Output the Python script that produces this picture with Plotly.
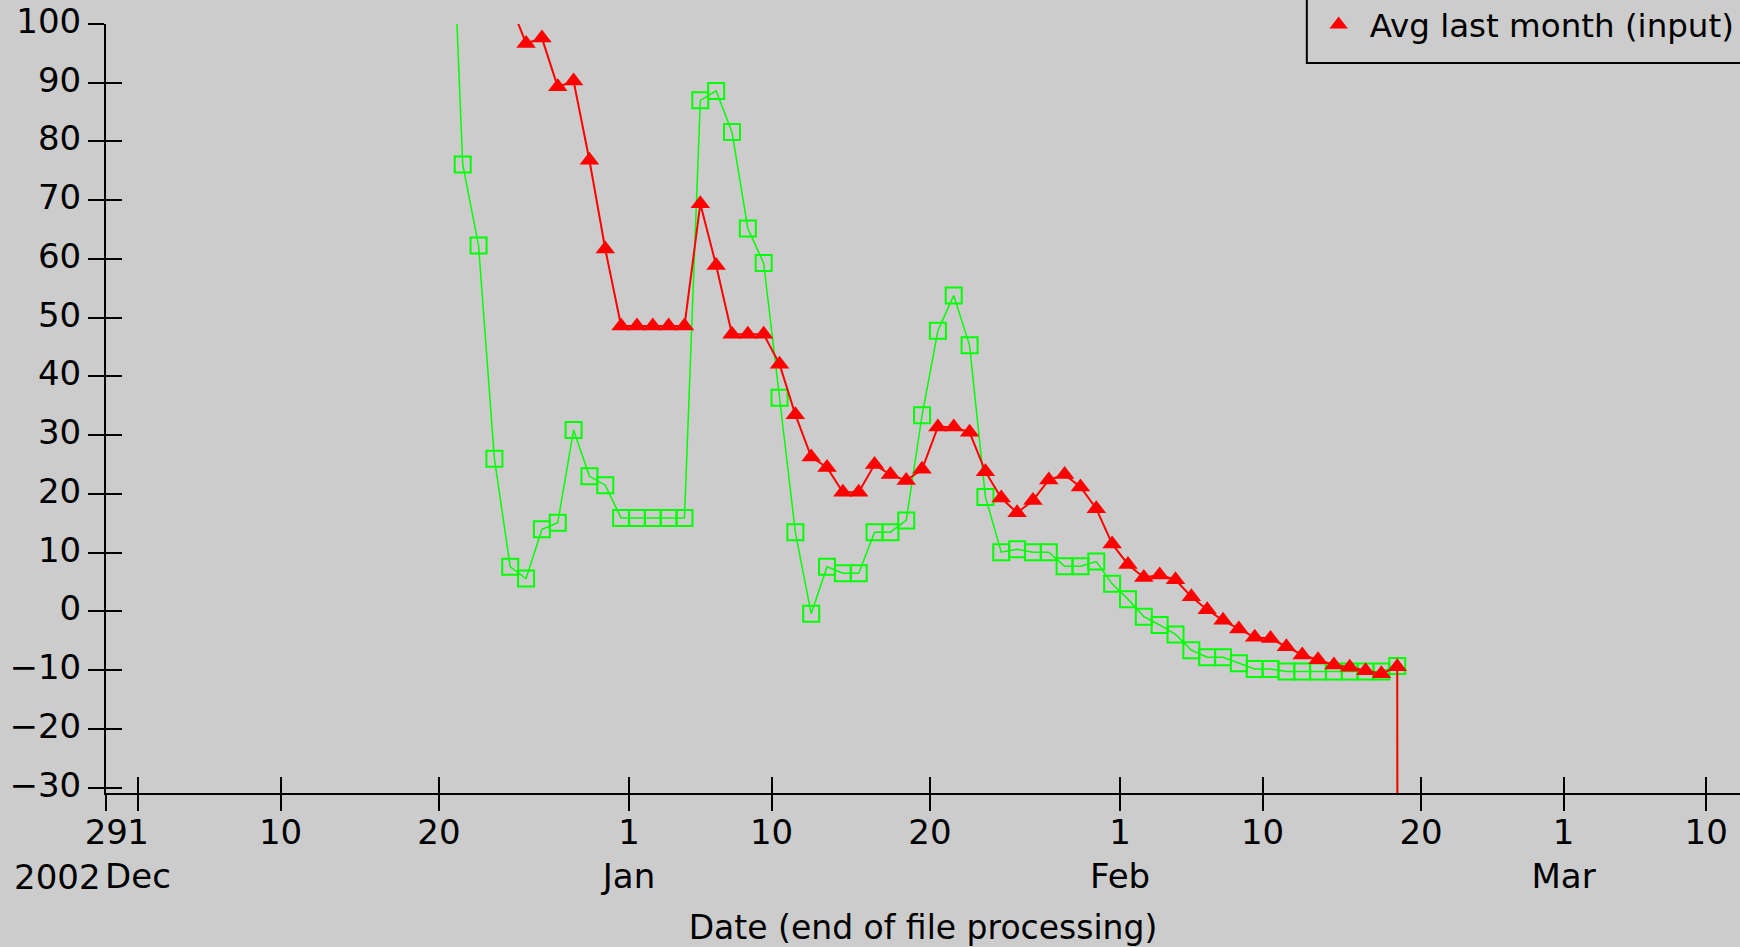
import pandas as pd
import plotly.graph_objects as go

# Daily values, one sample per day at noon
green_start = "2002-12-20 12:00"
green_vals = [
    142.0, 76.1, 62.3, 26.0, 7.6, 5.6, 14.0, 15.1, 30.9, 23.0, 21.5,      # Dec 20 - Dec 30
    15.9, 15.9, 15.9, 15.9, 15.9,                                        # Dec 31 - Jan 4
    87.0, 88.6, 81.6, 65.2, 59.3, 36.4, 13.5, -0.4, 7.6, 6.5, 6.5,       # Jan 5 - Jan 15
    13.5, 13.5, 15.5, 33.4, 47.8, 53.8, 45.3, 19.5, 10.1, 10.6, 10.1,    # Jan 16 - Jan 26
    10.1, 7.7, 7.7, 8.5, 4.7,                                            # Jan 27 - Jan 31
    2.1, -0.9, -2.3, -3.9, -6.6, -7.8, -7.8, -8.8, -9.8, -9.8,           # Feb 1 - Feb 10
    -10.2, -10.2, -10.2, -10.2, -10.2, -10.2, -10.2, -9.3,               # Feb 11 - Feb 18
    -3000.0,                                                             # Feb 19
]

red_start = "2002-12-24 12:00"
red_vals = [
    103.5, 96.7, 97.6, 89.3, 90.3, 76.8, 61.7,                           # Dec 24 - Dec 30
    48.6, 48.6, 48.6, 48.6, 48.6,                                        # Dec 31 - Jan 4
    69.4, 58.9, 47.2, 47.2, 47.2, 42.1, 33.5, 26.3, 24.5, 20.3, 20.3,    # Jan 5 - Jan 15
    25.0, 23.3, 22.3, 24.2, 31.4, 31.4, 30.5, 23.8, 19.3, 16.8, 18.9,    # Jan 16 - Jan 26
    22.4, 23.3, 21.2, 17.5, 11.5,                                        # Jan 27 - Jan 31
    8.0, 5.8, 6.2, 5.4, 2.5, 0.3, -1.5, -3.0, -4.4, -4.6,                # Feb 1 - Feb 10
    -6.0, -7.4, -8.2, -9.1, -9.5, -10.1, -10.6, -9.4,                    # Feb 11 - Feb 18
    -3000.0,                                                             # Feb 19
]

tick_dates = ["2002-11-29", "2002-12-01", "2002-12-10", "2002-12-20",
              "2003-01-01", "2003-01-10", "2003-01-20",
              "2003-02-01", "2003-02-10", "2003-02-20",
              "2003-03-01", "2003-03-10"]
tick_text = ["29", "1<br>Dec", "10", "20",
             "1<br>Jan", "10", "20",
             "1<br>Feb", "10", "20",
             "1<br>Mar", "10"]
y_ticks = list(range(-30, 101, 10))

x_range = ["2002-11-28 23:30", "2003-03-12 03:20"]
y_range = [-30.9, 100]

green_x = pd.date_range(green_start, periods=len(green_vals), freq="D")
red_x = pd.date_range(red_start, periods=len(red_vals), freq="D")

FONT = "DejaVu Sans"
BG = "#cccccc"
RED = "#ff0000"
GREEN = "#00ff00"

fig = go.Figure()

fig.add_trace(go.Scatter(
    x=green_x, y=green_vals, mode="lines+markers", name="Last day (input)",
    showlegend=False,
    line=dict(color=GREEN, width=1.5),
    marker=dict(symbol="square-open", size=16, color=GREEN,
                line=dict(color=GREEN, width=2)),
))
fig.add_trace(go.Scatter(
    x=red_x, y=red_vals, mode="lines+markers", name="Avg last month (input)",
    showlegend=False,
    line=dict(color=RED, width=2),
    marker=dict(symbol="triangle-up", size=17, color=RED),
))
# legend entry shows the marker only
fig.add_trace(go.Scatter(
    x=[None], y=[None], mode="markers", name="Avg last month (input)",
    marker=dict(symbol="triangle-up", size=17, color=RED),
))
# companion axes carrying the inner half of each tick mark
fig.add_trace(go.Scatter(x=[], y=[], xaxis="x2", yaxis="y2",
                         showlegend=False, hoverinfo="skip"))

axis_common = dict(showgrid=False, zeroline=False, showline=True,
                   linecolor="black", linewidth=2, tickcolor="black",
                   tickwidth=2, ticklen=16)

fig.update_layout(
    width=1740, height=947, autosize=False,
    margin=dict(l=106, r=0, t=24, b=154, autoexpand=False),
    paper_bgcolor=BG, plot_bgcolor=BG,
    font=dict(family=FONT, size=34, color="black"),
    xaxis=dict(type="date", range=x_range, tickmode="array",
               tickvals=tick_dates, ticktext=tick_text, ticks="outside",
               tickangle=0, ticklabelstandoff=-8,
               tickfont=dict(family=FONT, size=34, color="black"),
               title=dict(text="Date (end of file processing)",
                          font=dict(family=FONT, size=33, color="black"),
                          standoff=21),
               **axis_common),
    yaxis=dict(range=y_range, tickmode="array", tickvals=y_ticks,
               ticks="outside", ticklabelshift=-3,
               tickfont=dict(family=FONT, size=34, color="black"),
               **axis_common),
    xaxis2=dict(type="date", range=x_range, overlaying="x", tickmode="array",
                tickvals=tick_dates, ticks="inside", showticklabels=False,
                **axis_common),
    yaxis2=dict(range=y_range, overlaying="y", tickmode="array",
                tickvals=y_ticks, ticks="inside", showticklabels=False,
                **axis_common),
    legend=dict(x=0.7354, y=0.999, xanchor="left", yanchor="middle",
                itemwidth=52,
                bgcolor="rgba(0,0,0,0)", borderwidth=0,
                font=dict(family=FONT, size=32.5, color="black")),
    annotations=[dict(text="2002", xref="paper", yref="paper", x=0, y=0,
                      xanchor="right", yanchor="top", xshift=-3, yshift=-62,
                      showarrow=False,
                      font=dict(family=FONT, size=34, color="black"))],
    shapes=[dict(type="rect", xref="paper", yref="paper",
                 x0=0.7349, x1=1.2, y0=0.9493, y1=1.2,
                 line=dict(color="black", width=2), fillcolor="rgba(0,0,0,0)")],
)

fig.write_html("out.html")
